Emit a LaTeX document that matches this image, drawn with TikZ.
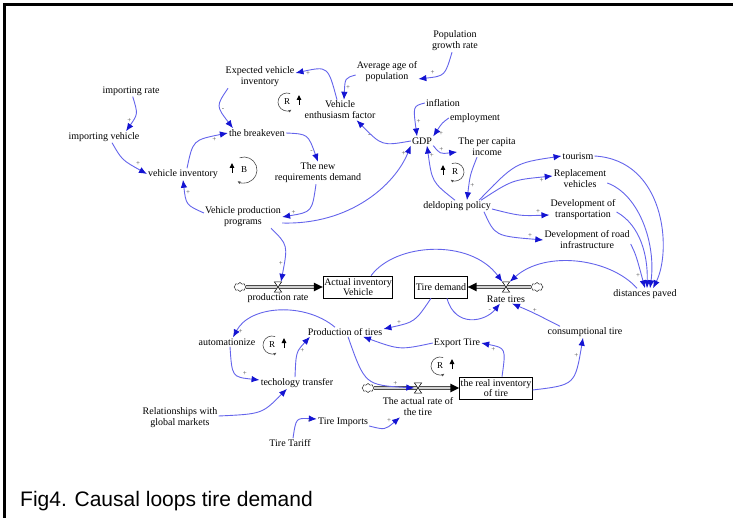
\documentclass[tikz,border=0pt]{standalone}
\usepackage{fontspec}
\setmainfont{Liberation Serif}
\newfontfamily\capfont{Liberation Sans}
\usepackage{tikz}
\usetikzlibrary{arrows.meta,shapes.symbols,calc}
\definecolor{linkblue}{RGB}{100,100,235}
\definecolor{headblue}{RGB}{20,20,210}
\tikzset{
var/.style={
align=center,
inner sep=1pt,
font=\fontsize{10}{11}\selectfont
},
stock/.style={
draw,
line width=0.6pt,
minimum height=22pt,
inner sep=1pt,
align=center,
font=\fontsize{10}{10.5}\selectfont
},
valvebox/.style={
minimum width=7pt,
minimum height=10pt,
inner sep=0pt
},
glass/.style={
draw,
fill=white,
line width=0.5pt
},
source/.style={
cloud,
cloud puffs=8,
draw,
fill=white,
minimum width=12pt,
minimum height=9pt,
inner sep=0pt
},
pipe/.style={
draw=gray!60!black,
double=gray!35,
double distance=2.6pt,
line width=0.6pt,
shorten >=7pt
},
flowhead/.style={
-{Triangle[length=9pt,width=8pt,color=black]},
draw=gray!35,
line width=2pt
},
link/.style={
-{Latex[length=8pt,width=6.5pt,color=headblue]},
draw=linkblue,
line width=0.9pt
},
pol/.style={
font=\fontsize{7}{7}\selectfont,
inner sep=1pt,
text=black!70
},
loopid/.style={
inner sep=0pt,
font=\fontsize{9}{9}\selectfont
},
looparc/.style={
-{Latex[length=3pt,width=3pt]},
draw=black!70,
line width=0.6pt
},
loopicon/.style={
-{Triangle[length=5pt,width=4.5pt]},
line width=1pt
}
}

\begin{document}
\begin{tikzpicture}[x=1pt,y=-1pt]
\useasboundingbox (0,0) rectangle (733,518);
\draw[line width=3pt] (4.5,518) -- (4.5,4.5) -- (733,4.5);

% auxiliaries
\node[var](imprate) at (131,91){importing rate};
\node[var](impveh) at (104,137){importing vehicle};
\node[var](vinv) at (183,174){vehicle inventory};
\node[var](brk) at (257,133){the breakeven};
\node[var](expinv) at (260,77){Expected vehicle\\inventory};
\node[var](newreq) at (318,173){The new\\requirements demand};
\node[var](vprog) at (243,217){Vehicle production\\programs};
\node[var](enth) at (340,110){Vehicle\\enthusiasm factor};
\node[var](avgage) at (387,72){Average age of\\population};
\node[var](popgr) at (455,41){Population\\growth rate};
\node[var](infl) at (443,103){inflation};
\node[var](empl) at (475,118){employment};
\node[var](gdp) at (422,141){GDP};
\node[var](pcap) at (487,147){The per capita\\income};
\node[var](dpol) at (457,206){deldoping policy};
\node[var](tour) at (578,156){tourism};
\node[var](repl) at (580,179){Replacement\\vehicles};
\node[var](dtrans) at (583,210){Development of\\transportation};
\node[var](droad) at (587,240){Development of road\\infrastructure};
\node[var](dist) at (645,294){distances paved};
\node[var](cons) at (585,332){consumptional tire};
\node[var](expt) at (457,343){Export Tire};
\node[var](prod) at (345,332){Production of tires};
\node[var](auto) at (227,342){automationize};
\node[var](tech) at (297,383){techology transfer};
\node[var](rel) at (180,418){Relationships with\\global markets};
\node[var](timp) at (343,422){Tire Imports};
\node[var](ttar) at (290,443){Tire Tariff};

% stocks and flows
\node[stock,minimum width=67pt](avinv) at (358,287){Actual inventory\\Vehicle};
\node[stock,minimum width=49pt](tdem) at (441,287){Tire demand};
\node[stock,minimum width=70pt](rinv) at (496,388){the real inventory\\of tire};
\node[source](c1) at (240,287){};
\node[source](c2) at (537,287){};
\node[source](c3) at (368,388){};
\node[valvebox](vrate) at (278,287){};
\node[valvebox](vtire) at (506,287){};
\node[valvebox](vact) at (418,388){};
\draw[pipe](c1)--(avinv);
\draw[pipe](c2)--(tdem);
\draw[pipe](c3)--(rinv);
\draw[flowhead](vrate)--(avinv);
\draw[flowhead](vtire)--(tdem);
\draw[flowhead](vact)--(rinv);
\foreach \v in {vrate,vtire,vact}
\draw[glass](\v.north west)--(\v.north east)--(\v.south west)--(\v.south east)--cycle;
\node[var](vratel) at (278,298){production rate};
\node[var](vtirel) at (506,299){Rate tires};
\node[var](vactl) at (418,407){The actual rate of\\the tire};

% loop markers
\foreach \n/\p/\l/\s/\r in {r1/{287,102}/R/1/9,b1/{244,170}/B/-1/13,r2/{455,172}/R/-1/9,r3/{272,345}/R/1/9,r4/{440,366}/R/1/9}{
\node[loopid](\n) at (\p){\l};
\draw[looparc](\n.center) ++({-90+20*\s}:\r) arc[start angle={-90+20*\s},end angle={-90-210*\s},radius=\r];
\draw[loopicon]($(\n)+({12*\s},3)$) -- ++(0,-10);
}

% causal links
\draw[link](imprate) .. controls (138,114) .. ([xshift=22pt]impveh.north) node[pol,pos=.75,left]{+};
\draw[link]([xshift=8pt]impveh.south) .. controls (122,160) .. (vinv.west) node[pol,pos=.8,above right]{+};
\draw[link]([xshift=4pt]vinv.north) .. controls (193,140) .. (brk.west) node[pol,pos=.85,below]{+};
\draw[link]([xshift=-32pt]expinv.south) .. controls (216,106) .. ([xshift=-24pt]brk.north) node[pol,pos=.6,right]{-};
\draw[link](brk.east) .. controls (308,134) .. (newreq.north) node[pol,pos=.85,left]{-};
\draw[link]([xshift=-2pt]newreq.south) .. controls (312,212) .. (vprog.east) node[pol,pos=.9,above right]{+};
\draw[link]([yshift=4pt]vprog.west) .. controls (186,205) .. (vinv.south) node[pol,pos=.8,right]{+};
\draw[link]([xshift=28pt]vprog.south) .. controls (288,245) .. ([xshift=3pt]vrate.north) node[pol,pos=.8,left]{+};
\draw[link]([yshift=-6pt]vprog.east) .. controls (350,225) and (395,185) .. (gdp.south west) node[pol,pos=.93,left]{+};
\draw[link]([xshift=-22pt]avinv.north east) .. controls (395,243) and (470,238) .. (vtire.north west);
\draw[link]([yshift=-3pt]avgage.west) .. controls (345,78) .. ([xshift=4pt]enth.north) node[pol,pos=.75,right]{+};
\draw[link]([xshift=-3pt]enth.north) .. controls (328,66) .. ([yshift=4pt]expinv.east) node[pol,pos=.85,below]{+};
\draw[link]([xshift=-3pt]popgr.south) .. controls (445,76) .. ([yshift=-7pt]avgage.east) node[pol,pos=.7,above left]{+};
\draw[link](gdp.west) .. controls (382,146) .. ([xshift=-20pt]enth.south east) node[pol,pos=.8,below]{-};
\draw[link](infl.west) .. controls (413,106) .. ([xshift=-5pt]gdp.north) node[pol,pos=.8,right]{+};
\draw[link](empl.west) .. controls (442,123) .. (gdp.north east) node[pol,pos=.8,below right]{+};
\draw[link](gdp.south east) .. controls (440,154) .. ([yshift=-5pt]pcap.west) node[pol,pos=.5,above]{+};
\draw[link]([xshift=-10pt]pcap.south) .. controls (470,175) .. ([xshift=10pt]dpol.north) node[pol,pos=.75,right]{+};
\draw[link]([xshift=-2pt]dpol.north) .. controls (432,182) .. ([xshift=5pt]gdp.south) node[pol,pos=.9,right]{+};
\draw[link]([xshift=22pt]dpol.north) .. controls (515,163) .. (tour.west);
\draw[link]([xshift=24pt]dpol.north) .. controls (512,180) .. ([yshift=3pt]repl.west) node[pol,pos=.9,below]{+};
\draw[link]([yshift=-3pt]dpol.east) .. controls (520,216) .. ([yshift=-5pt]dtrans.west) node[pol,pos=.85,above]{+};
\draw[link]([xshift=-8pt]dpol.south east) .. controls (495,236) .. (droad.west) node[pol,pos=.9,above]{+};
\draw[link](tour.east) .. controls (665,160) and (672,250) .. ([xshift=8pt]dist.north);
\draw[link]([yshift=-4pt]repl.east) .. controls (640,195) and (656,245) .. ([xshift=5pt]dist.north);
\draw[link]([yshift=-2pt]dtrans.east) .. controls (640,225) and (648,255) .. ([xshift=2pt]dist.north);
\draw[link]([yshift=-4pt]droad.east) .. controls (636,255) .. (dist.north) node[pol,pos=.85,left]{+};
\draw[link]([xshift=-8pt]dist.north) .. controls (610,258) and (545,250) .. (vtire.north east);
\draw[link]([xshift=-10pt]tdem.south) .. controls (415,322) .. ([yshift=3pt]prod.east) node[pol,pos=.85,above right]{+};
\draw[link]([xshift=6pt]tdem.south) .. controls (455,328) and (485,322) .. ([xshift=-6pt]vtirel.south) node[pol,pos=.85,left]{-};
\draw[link]([xshift=-25pt]cons.north) .. controls (532,312) .. ([xshift=6pt]vtirel.south) node[pol,pos=.45,above]{+};
\draw[link]([yshift=-2pt]rinv.east) .. controls (575,385) .. ([xshift=-2pt]cons.south) node[pol,pos=.85,left]{+};
\draw[link]([xshift=6pt]rinv.north) .. controls (506,348) .. (expt.east) node[pol,pos=.8,below]{+};
\draw[link](expt.west) .. controls (400,350) .. ([xshift=18pt]prod.south);
\draw[link]([xshift=3pt]prod.south) .. controls (365,385) .. (vact.west) node[pol,pos=.85,above]{+};
\draw[link]([xshift=-10pt]prod.north) .. controls (305,302) and (250,305) .. ([xshift=6pt]auto.north) node[pol,pos=.93,right]{+};
\draw[link]([xshift=3pt]auto.south) .. controls (232,377) .. ([yshift=3pt]tech.west) node[pol,pos=.7,above right]{+};
\draw[link]([xshift=-2pt]tech.north) .. controls (296,352) .. ([xshift=-35pt]prod.south) node[pol,pos=.6,right]{+};
\draw[link]([yshift=2pt]rel.east) .. controls (262,414) .. ([xshift=-10pt]tech.south);
\draw[link]([xshift=3pt]ttar.north) .. controls (296,418) .. ([yshift=3pt]timp.west) node[pol,pos=.8,below right]{-};
\draw[link]([yshift=-4pt]timp.east) .. controls (385,430) .. ([xshift=-18pt]vactl.south) node[pol,pos=.8,above left]{+};

\node[anchor=base west,inner sep=0pt,font=\capfont\fontsize{21}{24}\selectfont](cap) at (20,506){Fig4. Causal loops tire demand};
\end{tikzpicture}
\end{document}
